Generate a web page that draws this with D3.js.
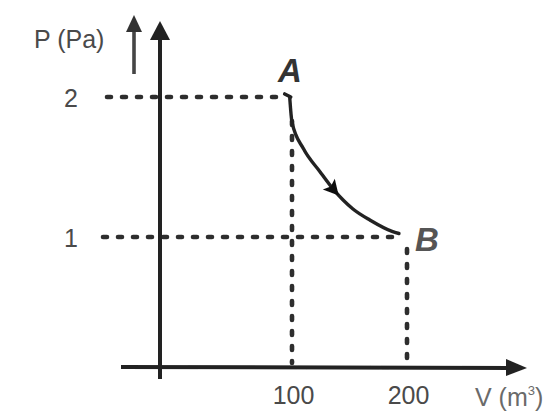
<!DOCTYPE html>
<html>
<head>
<meta charset="utf-8">
<script src="https://cdn.jsdelivr.net/npm/d3@7"></script>
<style>
  html, body { margin: 0; padding: 0; background: #fff; }
  svg { display: block; }
</style>
</head>
<body>
<svg id="chart" width="554" height="414"></svg>
<script>
// ---- data ----
const vTicks = [100, 200];          // V (m^3)
const pTicks = [1, 2];              // P (Pa)
const stateNames = ["A", "B"];
const stateV = [100, 200];
const stateP = [2, 1];
// hand-drawn process curve A -> B
const curveV = [98, 100, 110, 124, 136, 153, 168, 187, 193];
const curveP = [2.0, 1.82, 1.63, 1.47, 1.34, 1.2, 1.12, 1.04, 1.025];

// ---- layout ----
const svg = d3.select("#chart");
const x = d3.scaleLinear().domain([100, 200]).range([292, 407]);
const y = d3.scaleLinear().domain([1, 2]).range([237, 97]);
const axisX = 160;   // pixel position of the vertical axis
const axisY = 367;   // pixel position of the horizontal axis

const ink = "#222";
const textCol = "#4a4a4a";
const font = "Liberation Sans, Arial, sans-serif";

const defs = svg.append("defs");
defs.append("filter").attr("id", "soft")
  .append("feGaussianBlur").attr("stdDeviation", 0.6);

const g = svg.append("g").attr("filter", "url(#soft)");

// dashed guide lines
function dashed(x1, y1, x2, y2) {
  return g.append("line").attr("x1", x1).attr("y1", y1).attr("x2", x2).attr("y2", y2)
    .attr("stroke", "#2e2e2e").attr("stroke-width", 4.6)
    .attr("stroke-dasharray", "4 11").attr("stroke-linecap", "round");
}
// horizontal P lines
dashed(107, y(stateP[0]), x(stateV[0]) - 8, y(stateP[0]));
dashed(103, y(stateP[1]), x(stateV[1]) - 5, y(stateP[1]));
// vertical V lines
dashed(x(stateV[0]), y(stateP[0]) + 24, x(stateV[0]), axisY - 4);
dashed(x(stateV[1]), y(stateP[1]) + 12, x(stateV[1]), axisY - 4);

// axes lines
g.append("line").attr("x1", axisX).attr("y1", 36).attr("x2", axisX).attr("y2", 379)
  .attr("stroke", ink).attr("stroke-width", 4);
g.append("line").attr("x1", 121).attr("y1", axisY).attr("x2", 512).attr("y2", axisY + 1)
  .attr("stroke", ink).attr("stroke-width", 4);
// axis arrowheads
g.append("path").attr("d", `M${axisX},21 L${axisX + 10},40 L${axisX - 10},40 Z`).attr("fill", ink);
g.append("path").attr("d", `M527,${axisY + 1} L506,${axisY - 8} L506,${axisY + 9} Z`).attr("fill", ink);

// small direction arrow beside the P label
g.append("line").attr("x1", 134).attr("y1", 30).attr("x2", 134).attr("y2", 74)
  .attr("stroke", "#444").attr("stroke-width", 3.6);
g.append("path").attr("d", "M134,15 L142,32 L126,32 Z").attr("fill", "#333");

// process curve
const pts = curveV.map((v, i) => [x(v), y(curveP[i])]);
const line = d3.line().curve(d3.curveMonotoneX);
g.append("path").attr("d", line(pts)).attr("fill", "none")
  .attr("stroke", ink).attr("stroke-width", 3.4).attr("stroke-linecap", "round");
// small hook at A
g.append("path").attr("d", `M${x(98) - 5},${y(2) - 3} L${x(98) + 1},${y(2)}`)
  .attr("stroke", ink).attr("stroke-width", 3.6).attr("fill", "none").attr("stroke-linecap", "round");

// arrow on curve (at V = 136)
const ax = x(136), ay = y(1.34);
const ang = Math.atan2(y(1.2) - y(1.47), x(153) - x(124)) * 180 / Math.PI;
g.append("path").attr("d", "M8,0 L-7,-8 L-4,0 L-7,8 Z")
  .attr("transform", `translate(${ax},${ay}) rotate(${ang})`).attr("fill", "#111");

// tick labels (V) using axis generator
const xAxis = d3.axisBottom(x).tickValues(vTicks).tickSize(0).tickPadding(0);
const xa = svg.append("g").attr("transform", `translate(0,${axisY + 37})`).call(xAxis);
xa.select(".domain").remove();
xa.selectAll("text").attr("dy", 0).attr("x", 1)
  .attr("font-family", font).attr("font-size", 25)
  .attr("fill", textCol);

// tick labels (P)
svg.selectAll(".plab").data(pTicks).join("text").attr("class", "plab")
  .attr("x", 78).attr("y", d => y(d) + 10)
  .attr("text-anchor", "end")
  .attr("font-family", font).attr("font-size", 25)
  .attr("fill", textCol).text(d => d);

// axis titles
svg.append("text").attr("x", 34).attr("y", 48)
  .attr("font-family", font).attr("font-size", 25)
  .attr("fill", textCol).text("P (Pa)");
const vt = svg.append("text").attr("x", 475).attr("y", 406)
  .attr("font-family", font).attr("font-size", 25)
  .attr("fill", "#6a6a6a");
vt.append("tspan").text("V (m");
vt.append("tspan").attr("font-size", 13).attr("dy", -11).text("3");
vt.append("tspan").attr("font-size", 25).attr("dy", 11).text(")");

// state labels
const stateDx = [-14, 8];
const stateDy = [-15, 14];
svg.selectAll(".slab").data(stateNames).join("text").attr("class", "slab")
  .attr("x", (d, i) => x(stateV[i]) + stateDx[i])
  .attr("y", (d, i) => y(stateP[i]) + stateDy[i])
  .attr("font-family", font)
  .attr("font-size", 33).attr("font-style", "italic").attr("font-weight", "bold")
  .attr("fill", (d, i) => i === 0 ? "#333" : "#555")
  .text(d => d);
</script>
</body>
</html>
